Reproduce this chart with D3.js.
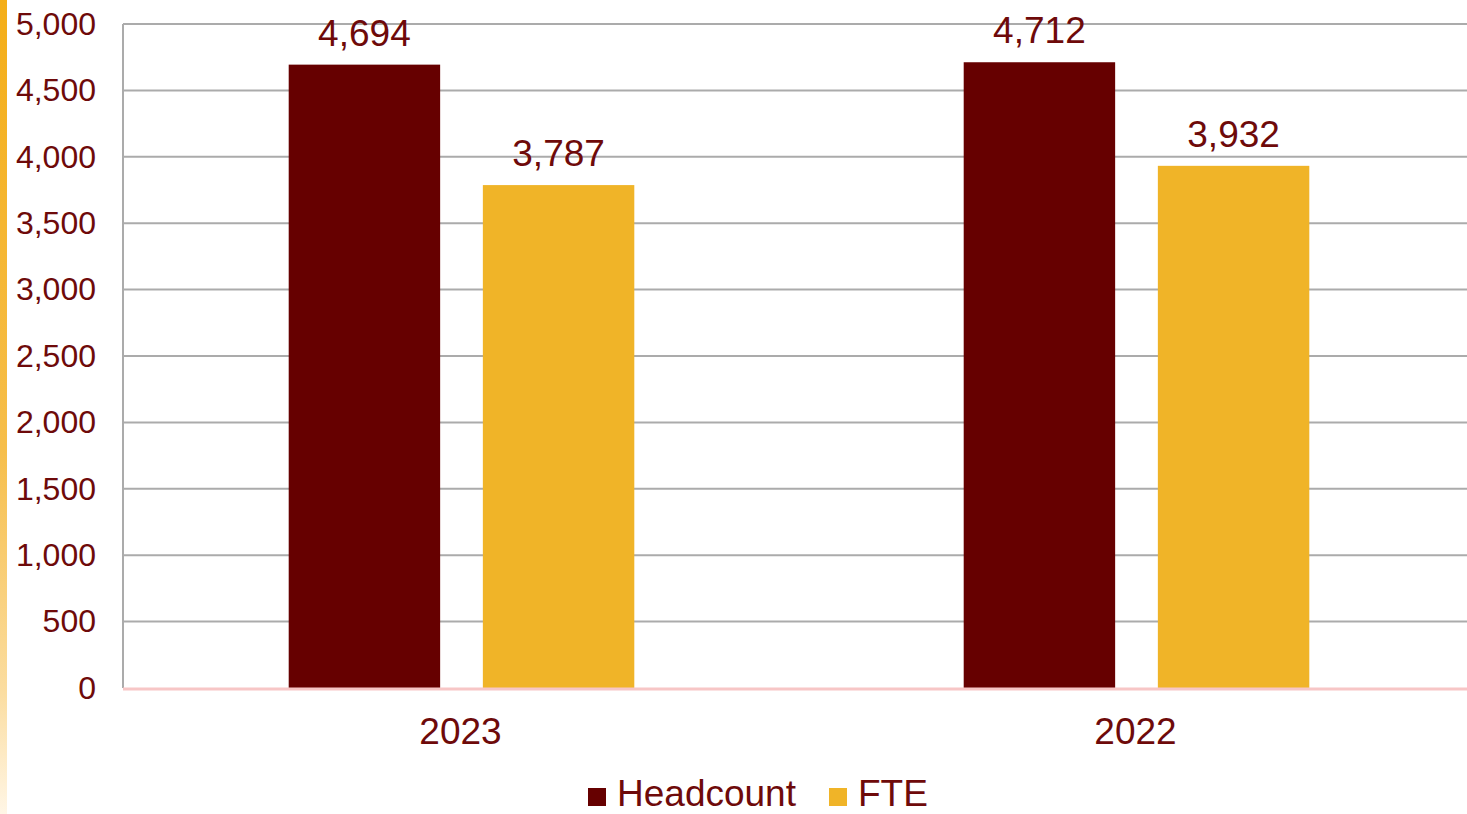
<!DOCTYPE html>
<html>
<head>
<meta charset="utf-8">
<script src="https://cdn.jsdelivr.net/npm/d3@7"></script>
<style>
  html, body { margin: 0; padding: 0; background: #fff; overflow: hidden; }
  svg { display: block; font-family: "Liberation Sans", Arial, sans-serif; }
</style>
</head>
<body>
<svg id="chart" width="1467" height="814"></svg>
<script>
// Staff numbers by year
const years = ["2023", "2022"];
const seriesNames = ["Headcount", "FTE"];
const headcount = [4694, 4712];
const fte = [3787, 3932];
const yTicks = [0, 500, 1000, 1500, 2000, 2500, 3000, 3500, 4000, 4500, 5000];

const colors = { Headcount: "#660000", FTE: "#F0B428" };
const textColor = "#6E0A0A";

const W = 1467, H = 814;
const margin = { top: 24, right: -6, bottom: 126, left: 123 };
const svg = d3.select("#chart");

// Decorative accent stripe along the left edge
const defs = svg.append("defs");
const grad = defs.append("linearGradient").attr("id", "edge").attr("x1", 0).attr("y1", 0).attr("x2", 0).attr("y2", 1);
grad.append("stop").attr("offset", "0%").attr("stop-color", "#F4AE18");
grad.append("stop").attr("offset", "55%").attr("stop-color", "#F6BE4A");
grad.append("stop").attr("offset", "85%").attr("stop-color", "#FBDDA0");
grad.append("stop").attr("offset", "100%").attr("stop-color", "#FFF6E6");
svg.append("rect").attr("x", 0).attr("y", 0).attr("width", 7).attr("height", H).attr("fill", "url(#edge)");

const x0 = 123, x1 = W - margin.right;
const yTop = margin.top, yBot = H - margin.bottom;

const y = d3.scaleLinear().domain([0, 5000]).range([yBot, yTop]);
const xBand = d3.scaleBand().domain(years).range([x0, x1]).paddingInner(0).paddingOuter(0);
const groupWidth = xBand.bandwidth() * 0.512;
const xInner = d3.scaleBand().domain(seriesNames).range([0, groupWidth]).paddingInner(0.22);

// Gridlines
svg.append("g")
  .selectAll("line")
  .data(yTicks.filter(t => t > 0))
  .join("line")
  .attr("x1", x0).attr("x2", W)
  .attr("y1", d => y(d)).attr("y2", d => y(d))
  .attr("stroke", "#ABABAB").attr("stroke-width", 2);

// Y axis line
svg.append("line")
  .attr("x1", x0).attr("x2", x0)
  .attr("y1", yTop).attr("y2", yBot)
  .attr("stroke", "#ABABAB").attr("stroke-width", 2);

// Y axis labels
const yAxis = d3.axisLeft(y).tickValues(yTicks).tickFormat(d3.format(",")).tickSize(0).tickPadding(27);
const yg = svg.append("g").attr("transform", `translate(${x0},0)`).call(yAxis);
yg.select(".domain").remove();
yg.selectAll("text")
  .attr("fill", textColor)
  .style("font-size", "32px")
  .style("font-family", "'Liberation Sans', Arial, sans-serif");

// Bars
const rows = years.map((yr, i) => ({ year: yr, values: [
  { key: "Headcount", value: headcount[i] },
  { key: "FTE", value: fte[i] }
]}));

const groups = svg.append("g").selectAll("g")
  .data(rows)
  .join("g")
  .attr("transform", d => `translate(${xBand(d.year) + (xBand.bandwidth() - groupWidth) / 2 + 1},0)`);

groups.selectAll("rect")
  .data(d => d.values)
  .join("rect")
  .attr("x", d => xInner(d.key))
  .attr("width", xInner.bandwidth())
  .attr("y", d => y(d.value))
  .attr("height", d => y(0) - y(d.value))
  .attr("fill", d => colors[d.key]);

groups.selectAll("text")
  .data(d => d.values)
  .join("text")
  .attr("x", d => xInner(d.key) + xInner.bandwidth() / 2)
  .attr("y", d => y(d.value) - 19)
  .attr("text-anchor", "middle")
  .attr("fill", textColor)
  .style("font-size", "37px")
  .text(d => d3.format(",")(d.value));

// Baseline
svg.append("line")
  .attr("x1", x0).attr("x2", W)
  .attr("y1", yBot + 1).attr("y2", yBot + 1)
  .attr("stroke", "#F7C6C6").attr("stroke-width", 3);

// Category labels
const xAxis = d3.axisBottom(xBand).tickSize(0).tickPadding(30);
const xg = svg.append("g").attr("transform", `translate(0,${yBot})`).call(xAxis);
xg.select(".domain").remove();
xg.selectAll("text")
  .attr("fill", textColor)
  .style("font-size", "37px")
  .style("font-family", "'Liberation Sans', Arial, sans-serif");

// Legend
const legendItems = [
  { key: "Headcount", x: 588 },
  { key: "FTE", x: 829 }
];
const lg = svg.append("g");
lg.selectAll("rect")
  .data(legendItems)
  .join("rect")
  .attr("x", d => d.x).attr("y", 788)
  .attr("width", 18).attr("height", 18)
  .attr("fill", d => colors[d.key]);
lg.selectAll("text")
  .data(legendItems)
  .join("text")
  .attr("x", d => d.x + 29).attr("y", 806)
  .attr("fill", textColor)
  .style("font-size", "37px")
  .text(d => d.key);
</script>
</body>
</html>
